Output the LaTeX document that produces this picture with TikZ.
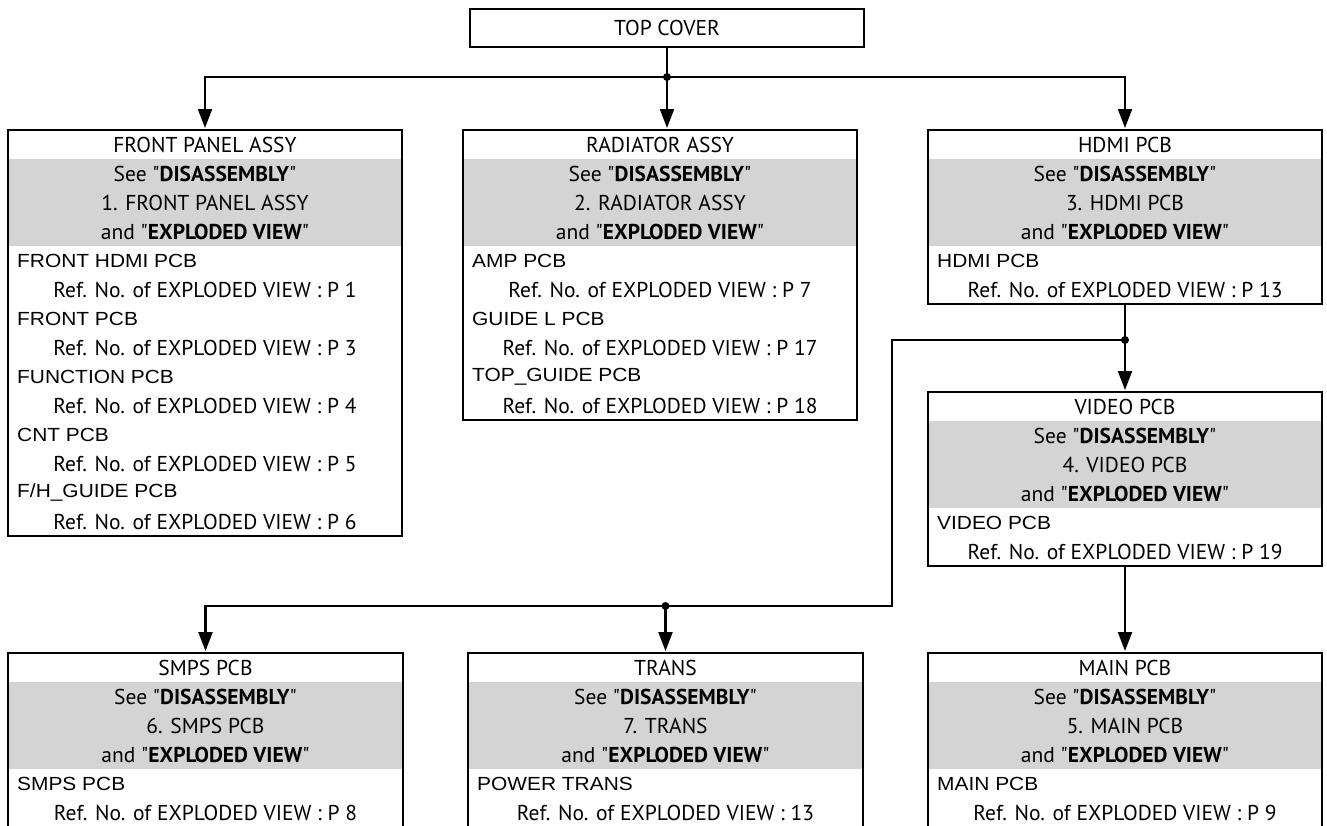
\documentclass[tikz,border=0pt]{standalone}
\usepackage{fontspec}
\setmainfont{PT Sans}
\newfontfamily\itemfont[FakeStretch=1.1]{Liberation Sans}
\usetikzlibrary{arrows.meta}
\definecolor{graybg}{RGB}{212,212,212}
\newcommand\fhguide{F/H\_GUIDE PCB}
\newcommand\topguide{TOP\_GUIDE PCB}
\newcommand\qq{\textquotedbl}
\tikzset{
  boxframe/.style={draw, line width=2.2pt, inner sep=0pt, outer sep=0pt, anchor=north west},
  ctr/.style={font=\fontsize{21.5}{25}\selectfont, inner sep=0pt, anchor=center},
  itm/.style={font=\itemfont\fontsize{19}{23}\selectfont, inner sep=0pt, anchor=west},
  ln/.style={line width=2.2pt},
  conn/.style={line width=2.2pt, -{Triangle[length=19pt,width=14pt]}, shorten >=2pt},
}
\newcommand\mkpanel[8]{%
  \pgfmathsetmacro\pw{#3-#2}%
  \pgfmathsetmacro\ph{29*#5}%
  \pgfmathsetmacro\cx{(#2+#3)/2}%
  \fill[graybg] (#2,#4+29) rectangle (#3,#4+116);
  \node[boxframe, minimum width=\pw pt, minimum height=\ph pt] (#1) at (#2,#4) {};
  \node[ctr] (#1-t) at (\cx,#4+14.5) {#6};
  \node[ctr] (#1-s) at (\cx,#4+43.5) {See \qq\textbf{DISASSEMBLY}\qq};
  \node[ctr] (#1-n) at (\cx,#4+72.5) {#7};
  \node[ctr] (#1-e) at (\cx,#4+101.5) {and \qq\textbf{EXPLODED VIEW}\qq};
  \foreach \a/\b [count=\i from 0] in {#8} {
    \node[itm] (#1-i\i) at (#2+9,#4+130.5+58*\i) {\a};
    \node[ctr] (#1-r\i) at (\cx,#4+159.5+58*\i) {Ref. No. of EXPLODED VIEW : \b};
  }
}
\begin{document}
\begin{tikzpicture}[x=1pt,y=-1pt]
\useasboundingbox (0,0) rectangle (1327,825);
\clip (0,0) rectangle (1327,825);
\fill[white] (0,0) rectangle (1327,825);

% top cover
\node[boxframe, minimum width=394pt, minimum height=38pt] (tc) at (470,9) {};
\node[ctr] (tc-t) at (tc.center) {TOP COVER};

\mkpanel{fp}{8}{402}{130}{14}{FRONT PANEL ASSY}{1. FRONT PANEL ASSY}%
  {FRONT HDMI PCB/P 1, FRONT PCB/P 3, FUNCTION PCB/P 4, CNT PCB/P 5, \fhguide/P 6}
\mkpanel{ra}{463}{857}{130}{10}{RADIATOR ASSY}{2. RADIATOR ASSY}%
  {AMP PCB/P 7, GUIDE L PCB/P 17, \topguide/P 18}
\mkpanel{hd}{928}{1322}{130}{6}{HDMI PCB}{3. HDMI PCB}{HDMI PCB/P 13}
\mkpanel{vi}{928}{1322}{392}{6}{VIDEO PCB}{4. VIDEO PCB}{VIDEO PCB/P 19}
\mkpanel{sm}{8}{403}{653}{6}{SMPS PCB}{6. SMPS PCB}{SMPS PCB/P 8}
\mkpanel{tr}{468}{863}{653}{6}{TRANS}{7. TRANS}{POWER TRANS/13}
\mkpanel{mn}{928}{1322}{653}{6}{MAIN PCB}{5. MAIN PCB}{MAIN PCB/P 9}

% connectors
\coordinate (j1) at (tc.south |- 0,77);
\draw[ln] (tc.south) -- (j1);
\draw[conn] (j1) -| (fp.north);
\draw[conn] (j1) -| (hd.north);
\draw[conn] (j1) -- (j1 |- ra.north);
\fill (j1) circle (4);

\coordinate (j2) at (hd.south |- 0,340);
\coordinate (c1) at (892,340);
\coordinate (c2) at (892,606);
\coordinate (j3) at (tr.north |- 0,606);
\draw[ln] (hd.south) -- (j2);
\draw[conn] (j2) -- (vi.north);
\draw[ln] (j2) -- (c1) -- (c2) -- (j3);
\draw[conn] (j3) -| (sm.north);
\draw[conn] (j3) -- (tr.north);
\draw[conn] (vi.south) -- (mn.north);
\fill (j2) circle (4);
\fill (j3) circle (4);
\end{tikzpicture}
\end{document}
